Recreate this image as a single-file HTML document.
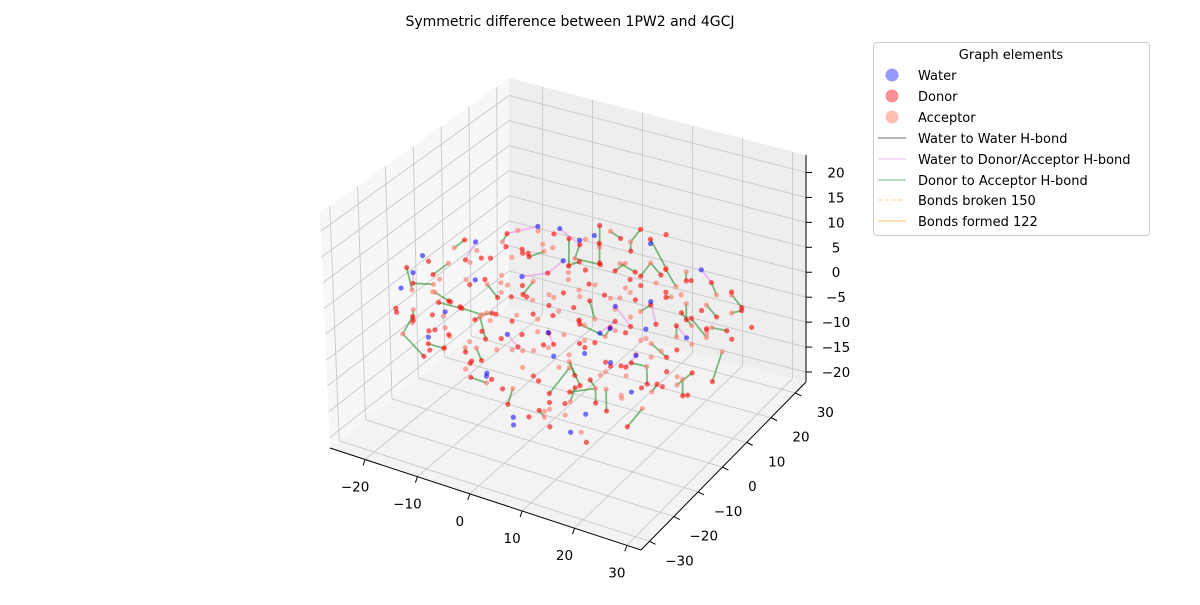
<!DOCTYPE html>
<html><head><meta charset="utf-8"><style>
body{margin:0;background:#fff;width:1200px;height:600px;overflow:hidden}
svg{font-family:"DejaVu Sans","Liberation Sans",sans-serif}
</style></head><body>
<svg id="chart" width="1200" height="600" xmlns="http://www.w3.org/2000/svg">
<text x="570" y="26" font-size="14" text-anchor="middle">Symmetric difference between 1PW2 and 4GCJ</text>
<g id="panes"></g><g id="grid"></g><g id="axes"></g><g id="marks"></g>
<g>
<rect x="873.5" y="42.5" width="276" height="193" rx="3" fill="#fff" stroke="#ccc"/>
<text x="1011" y="59" font-size="13" text-anchor="middle">Graph elements</text>
<circle cx="892" cy="75" r="6.5" fill="#9999ff"/>
<text x="918" y="80" font-size="13">Water</text>
<circle cx="892" cy="96" r="6.5" fill="#ff9191"/>
<text x="918" y="101" font-size="13">Donor</text>
<circle cx="892" cy="117" r="6.5" fill="#ffbfb2"/>
<text x="918" y="122" font-size="13">Acceptor</text>
<line x1="878" y1="138" x2="906" y2="138" stroke="#888" stroke-width="1.2"/>
<text x="918" y="143" font-size="13">Water to Water H-bond</text>
<line x1="878" y1="159" x2="906" y2="159" stroke="#f2c6f2" stroke-width="1.2"/>
<text x="918" y="164" font-size="13">Water to Donor/Acceptor H-bond</text>
<line x1="878" y1="180" x2="906" y2="180" stroke="#8fcf8f" stroke-width="1.2"/>
<text x="918" y="185" font-size="13">Donor to Acceptor H-bond</text>
<line x1="878" y1="200" x2="906" y2="200" stroke="#ffd8a0" stroke-width="1.2" stroke-dasharray="4,3"/>
<text x="918" y="205" font-size="13">Bonds broken 150</text>
<line x1="878" y1="221" x2="906" y2="221" stroke="#ffd27f" stroke-width="1.2"/>
<text x="918" y="226" font-size="13">Bonds formed 122</text>
</g>
</svg>
<script>
const xTicks=[-20,-10,0,10,20,30];
const yTicks=[-30,-20,-10,0,10,20,30];
const zTicks=[-20,-15,-10,-5,0,5,10,15,20];
const donors=[[-22,-10,2],[-20,-14,-3],[-21,-6,5],[-18,-18,0],[-19,-2,-4],[-17,-12,6],[-16,4,3],[-15,-20,-6],[-14,-8,-1],[-13,8,7],[-12,-16,4],[-12,0,-5],[-11,12,2],[-10,-22,-2],[-10,-4,8],[-9,6,-3],[-8,16,5],[-8,-12,-8],[-7,2,1],[-6,-18,3],[-6,10,-6],[-5,20,2],[-5,-6,-2],[-4,-24,-5],[-4,14,6],[-3,-10,5],[-3,4,-8],[-2,22,-2],[-2,-16,-10],[-1,8,4],[0,-4,-6],[0,18,8],[0,-20,2],[1,12,-4],[1,-12,7],[2,26,0],[2,0,3],[3,-24,-8],[3,6,-10],[4,16,1],[4,-8,-3],[5,24,6],[5,-16,-12],[6,2,5],[6,10,-7],[7,-20,-4],[7,20,-1],[8,-6,2],[8,28,4],[9,-12,-9],[9,14,3],[10,4,-2],[10,-22,-11],[11,22,-5],[11,-2,6],[12,-14,-6],[12,8,1],[13,26,-3],[13,-18,-2],[14,0,-8],[14,16,4],[15,-8,-4],[15,24,-9],[16,-20,-13],[16,6,2],[17,-14,0],[17,18,-6],[18,-2,-10],[18,26,-2],[19,10,-3],[19,-18,-7],[20,-10,-1],[20,20,-8],[21,2,-5],[21,28,-4],[22,-16,-10],[22,14,-1],[23,-6,-6],[23,24,-11],[24,6,-9],[24,-12,-3],[25,18,-6],[25,28,-10],[26,10,-12],[26,22,-3],[27,-4,-8],[-20,4,-8],[-18,-24,4],[-14,18,-2],[-10,-26,6],[-6,24,-5],[-2,-28,0],[2,-6,-14],[8,-26,-8],[12,-26,-4],[-16,-2,9],[-8,-2,10],[4,10,9],[10,18,8],[-12,-8,-11],
[-21,-14,7],[-19,-8,-7],[-17,0,4],[-15,-14,2],[-13,-2,-8],[-11,-10,5],[-9,-16,-5],[-7,-12,8],[-5,2,-4],[-3,-20,1],[-1,0,6],[1,-26,-3],[3,12,4],[5,0,-6],[7,-14,6],[9,24,-2],[11,-18,-8],[13,4,7],[15,-22,-2],[17,10,3],[19,-12,-1],[21,8,1],[23,2,-3],[25,-8,-5],[-14,6,-5],[-10,8,4],[-6,-2,-9],[-2,14,2],[2,-12,-8],[6,22,-4],[10,-6,-9],[14,12,-5],[18,18,2],[22,20,-5],[-18,-12,-9],[-8,-24,2],[0,10,-8],[8,14,-8],[16,-4,1],[24,26,-6],[-20,-20,1],[-16,-16,-3],[-12,-24,-1],[-4,-14,3],[4,-20,4],[12,-8,-12],[20,4,-9],[-8,4,7],[0,26,2],[6,-4,3],[14,-12,2],[26,0,-10]];
const acceptors=[[-21,-12,-2],[-20,-4,1],[-19,-16,4],[-18,2,-1],[-17,-8,-6],[-16,-22,1],[-15,10,4],[-14,-4,6],[-13,-14,-4],[-12,6,-2],[-11,-20,3],[-10,16,1],[-10,-10,-7],[-9,2,6],[-8,-18,-3],[-7,12,-5],[-7,-6,3],[-6,20,-1],[-5,-12,-5],[-5,6,8],[-4,-20,5],[-3,16,-6],[-3,-2,1],[-2,10,3],[-1,-14,-3],[-1,24,4],[0,2,-2],[0,-26,-4],[1,20,-7],[1,-8,1],[2,14,6],[2,-20,-7],[3,-2,-4],[3,24,3],[4,-14,2],[4,8,-5],[5,-4,-9],[5,18,-3],[6,-24,0],[6,-10,-6],[7,12,5],[7,-2,-1],[8,22,1],[8,-18,-10],[9,6,-5],[9,-8,3],[10,26,-7],[10,-14,-2],[11,12,-9],[11,-26,-6],[12,2,4],[12,20,2],[13,-10,-8],[13,8,-1],[14,-22,-5],[14,24,0],[15,0,2],[15,12,-10],[16,-12,-3],[16,20,-4],[17,4,-7],[17,-24,-9],[18,14,1],[18,-8,-5],[19,22,-9],[19,0,-2],[20,-14,-6],[20,8,-4],[21,18,-2],[21,-4,-9],[22,26,-7],[22,4,-11],[23,-12,-8],[23,16,-5],[24,22,-1],[24,0,-7],[-22,-2,-3],[-19,8,2],[-15,-10,8],[-9,-24,-1],[-4,0,-10],[-1,-22,6],[6,-16,-13],[9,-20,3],[-13,12,6],[-7,26,0],[-2,4,9],[14,-4,5],[26,14,-8],[18,24,-12],
[-20,-18,-4],[-18,-10,3],[-16,6,-3],[-14,-18,6],[-12,-12,1],[-10,0,3],[-8,8,-1],[-6,-8,6],[-4,8,-3],[-2,-8,-6],[0,-14,4],[2,6,1],[4,-2,7],[6,16,3],[8,-10,-3],[10,10,1],[12,-20,-9],[14,8,-6],[16,0,-5],[18,-16,-4],[20,24,-3],[22,-8,-2],[24,12,-4],[26,-2,-6],[-15,2,-7],[-11,-4,-3],[-7,-20,-6],[-3,-26,3],[1,4,5],[5,10,-9],[9,0,-11],[13,-14,3],[17,-8,-9],[21,12,-7],[-17,-4,8],[-9,12,7],[-1,18,-4],[7,26,-5],[15,18,0],[23,8,-1]];
const waters=[[-23,-8,3],[-20,-10,8],[-18,-6,-4],[-16,2,7],[-12,-6,4],[-8,10,9],[-6,-14,-9],[-4,18,4],[-2,-22,-5],[0,4,7],[2,-20,-14],[4,16,-6],[6,-12,-3],[8,2,-4],[9,20,6],[10,-8,-3],[12,14,-2],[14,-16,-10],[15,6,-3],[16,26,0],[18,-6,-9],[-10,22,3],[-14,-20,-2],[3,-8,-1],[7,8,-6],[11,0,-8],[-5,-2,5],[13,-20,-12],[5,-26,-9],[20,12,-6],[-19,-20,6],[-7,-4,-6],[1,14,8],[17,-2,-4]];
const bondDonors=[0,1,3,5,7,9,13,15,17,19,21,24,27,29,31,33,35,39,41,44,46,49,50,53,55,57,60,62,64,66,68,69,71,73,75,77,79,81,83,85,86,88,92,95,97,98,4,11,23,37,42,58,70,80,84,100,103,106,109,112,115,118,121,124,127,130,133,136,139,142,145,148];
const pinkWaters=[0,3,5,7,9,11,13,16,19,21,23,24,26,29,31,33];
const X0=-26.7,X1=32.7,Y0=-33.5,Y1=34.4,Z0=-22,Z1=23.5;
const C={'000':[330,448],'100':[641,550],'110':[806,382],'010':[509,306],
 '001':[320,213],'101':[638,307],'111':[806,155],'011':[509,78]};
function P(x,y,z){
 const u=(x-X0)/(X1-X0),v=(y-Y0)/(Y1-Y0),w=(z-Z0)/(Z1-Z0);
 let sx=0,sy=0;
 for(const k in C){const a=+k[0],b=+k[1],c=+k[2];
  const wt=(a?u:1-u)*(b?v:1-v)*(c?w:1-w);sx+=wt*C[k][0];sy+=wt*C[k][1];}
 return [sx,sy];}
const NS='http://www.w3.org/2000/svg';
function el(t,at,parent){const e=document.createElementNS(NS,t);for(const k in at)e.setAttribute(k,at[k]);parent.appendChild(e);return e;}
const panes=document.getElementById('panes'),grid=document.getElementById('grid'),axes=document.getElementById('axes'),marks=document.getElementById('marks');
function poly(pts,fill,name){const e=el('polygon',{points:pts.map(p=>p.join(',')).join(' '),fill:fill},panes);
 
 }
poly([P(X0,Y0,Z0),P(X0,Y1,Z0),P(X0,Y1,Z1),P(X0,Y0,Z1)],'#f7f7f7','left-pane');
poly([P(X0,Y1,Z0),P(X1,Y1,Z0),P(X1,Y1,Z1),P(X0,Y1,Z1)],'#eeeeee','back-pane');
poly([P(X0,Y0,Z0),P(X1,Y0,Z0),P(X1,Y1,Z0),P(X0,Y1,Z0)],'#f3f3f3','floor-pane');
function gl(a,b){const e=el('line',{x1:a[0],y1:a[1],x2:b[0],y2:b[1],stroke:'#c8c8c8','stroke-width':0.9},grid);
 
 }
xTicks.forEach(x=>{gl(P(x,Y0,Z0),P(x,Y1,Z0));gl(P(x,Y1,Z0),P(x,Y1,Z1));});
yTicks.forEach(y=>{gl(P(X0,y,Z0),P(X1,y,Z0));gl(P(X0,y,Z0),P(X0,y,Z1));});
zTicks.forEach(z=>{gl(P(X0,Y0,z),P(X0,Y1,z));gl(P(X0,Y1,z),P(X1,Y1,z));});
function al(a,b,name){const e=el('line',{x1:a[0],y1:a[1],x2:b[0],y2:b[1],stroke:'#000','stroke-width':1},axes);
 
 }
al(P(X0,Y0,Z0),P(X1,Y0,Z0),'x-axis-line');
al(P(X1,Y0,Z0),P(X1,Y1,Z0),'y-axis-line');
al(P(X1,Y1,Z0),P(X1,Y1,Z1),'z-axis-line');
function lab(x,y,t,name){const e=el('text',{x:x,y:y,'font-size':13.5,'text-anchor':'middle'},axes);e.textContent=t;
 
 }
const fmt=v=>(v<0?'\u2212'+(-v):''+v);
xTicks.forEach(x=>{const p=P(x,Y0,Z0);al(p,[p[0]-2,p[1]+6],'x-tick');lab(p[0]-10,p[1]+32,fmt(x),'x-tick-label');});
yTicks.forEach(y=>{const p=P(X1,y,Z0);al(p,[p[0]+6,p[1]+3],'y-tick');lab(p[0]+30,p[1]+24,fmt(y),'y-tick-label');});
zTicks.forEach(z=>{const p=P(X1,Y1,z);al(p,[p[0]+6,p[1]],'z-tick');lab(p[0]+30,p[1]+5,fmt(z),'z-tick-label');});
function dist(a,b){return Math.hypot(a[0]-b[0],a[1]-b[1],a[2]-b[2]);}
function nearest(p,arr){let bi=0,bd=1e9;arr.forEach((q,i)=>{const d=dist(p,q);if(d<bd&&d>0){bd=d;bi=i;}});return arr[bi];}
function seg(a,b,col,op,name){const p=P(...a),q=P(...b);
 const e=el('line',{x1:p[0],y1:p[1],x2:q[0],y2:q[1],stroke:col,'stroke-opacity':op,'stroke-width':1.8},marks);
 
 }
pinkWaters.forEach(i=>seg(waters[i],nearest(waters[i],donors),'violet',0.5,'water-donor-bond'));
bondDonors.forEach(i=>seg(donors[i],nearest(donors[i],acceptors),'green',0.5,'donor-acceptor-bond'));
function dot(pt,col,op,name){const p=P(...pt);
 const e=el('circle',{cx:p[0],cy:p[1],r:2.6,fill:col,'fill-opacity':op},marks);
 
 }
acceptors.forEach(p=>dot(p,'#fa8072',0.65,'acceptor-point'));
donors.forEach(p=>dot(p,'#ff0000',0.6,'donor-point'));
waters.forEach(p=>dot(p,'#0000ff',0.55,'water-point'));
</script>
</body></html>
